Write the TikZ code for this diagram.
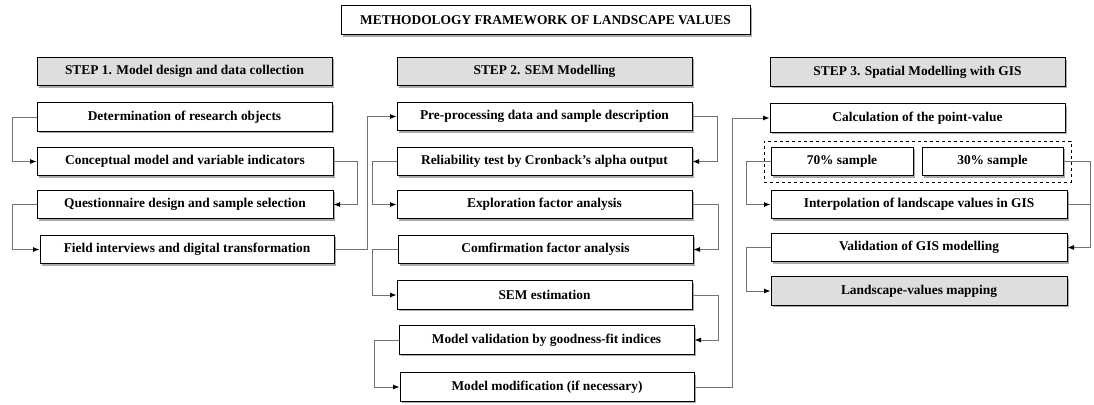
\documentclass[tikz,border=0pt]{standalone}
\usepackage{fontspec}
\setmainfont{Liberation Serif}
\usetikzlibrary{arrows.meta,shadows,positioning,calc}
\begin{document}
\begin{tikzpicture}[x=1pt,y=-1pt,
  box/.style={draw=black,line width=1pt,fill=white,inner sep=0pt,
    minimum width=295pt,minimum height=28.5pt,
    font=\fontsize{13.4}{15}\selectfont\bfseries,
    drop shadow={shadow xshift=1.6pt,shadow yshift=-1.8pt,fill=black!55,opacity=0.6}},
  head/.style={box,fill=black!13},
  conn/.style={draw=black!55,line width=0.8pt},
  arr/.style={conn,-{Latex[length=6.5pt,width=5pt,fill=black,color=black]}},
]
\useasboundingbox (0,0) rectangle (1094,404);

% title
\node[box,minimum width=409pt,minimum height=29pt] (title) at (545.5,20.5) {METHODOLOGY FRAMEWORK OF LANDSCAPE VALUES};

% step 1
\node[head] (h1) at (184.5,71.5) {STEP 1. Model design and data collection};
\node[box] (b1) at (184.5,117) {Determination of research objects};
\node[box,minimum width=296pt] (b2) at (185,161.5) {Conceptual model and variable indicators};
\node[box,minimum width=296pt] (b3) at (185,204.5) {Questionnaire design and sample selection};
\node[box,minimum width=294pt] (b4) at (187,249.5) {Field interviews and digital transformation};

% step 2
\node[head] (h2) at (544.5,71.5) {STEP 2. SEM Modelling};
\node[box] (s1) at (544.5,116.5) {Pre-processing data and sample description};
\node[box] (s2) at (544.5,161.5) {Reliability test by Cronback’s alpha output};
\node[box] (s3) at (544.5,204.5) {Exploration factor analysis};
\node[box] (s4) at (545.5,249.5) {Comfirmation factor analysis};
\node[box] (s5) at (544.5,295) {SEM estimation};
\node[box] (s6) at (546.5,340) {Model validation by goodness-fit indices};
\node[box,minimum width=294pt] (s7) at (547,387) {Model modification (if necessary)};

% step 3
\node[head] (h3) at (917.5,72) {STEP 3. Spatial Modelling with GIS};
\node[box] (c1) at (917.5,118) {Calculation of the point-value};
\node[draw=black,dashed,line width=1pt,minimum width=307pt,minimum height=41pt,inner sep=0pt] (dash) at (917.5,161.5) {};
\node[box,minimum width=142pt] (p70) at (842,161.5) {70\% sample};
\node[box,minimum width=141pt] (p30) at (992.5,161.5) {30\% sample};
\node[box,minimum width=296pt] (i1) at (919,204.5) {Interpolation of landscape values in GIS};
\node[box,minimum width=296pt] (v1) at (919,247.5) {Validation of GIS modelling};
\node[head,minimum width=296pt] (lm) at (919,291) {Landscape-values mapping};

% connectors step 1
\draw[arr] (b1.west) -- ++(-24,0) |- (b2.west);
\draw[arr] (b2.east) -- ++(24,0) |- (b3.east);
\draw[arr] (b3.west) -- ++(-24,0) |- (b4.west);
\draw[arr] (b4.east) -- ++(33,0) |- (s1.west);

% connectors step 2
\draw[arr] (s1.east) -- ++(25,0) |- (s2.east);
\draw[arr] (s2.west) -- ++(-24,0) |- (s3.west);
\draw[arr] (s3.east) -- ++(26,0) |- (s4.east);
\draw[arr] (s4.west) -- ++(-25,0) |- (s5.west);
\draw[arr] (s5.east) -- ++(26,0) |- (s6.east);
\draw[arr] (s6.west) -- ++(-24,0) |- (s7.west);
\draw[arr] (s7.east) -- ++(38,0) |- (c1.west);

% connectors step 3
\draw[arr] (p70.west) -- ++(-24,0) |- (i1.west);
\draw[arr] (p30.east) -- ++(27,0) |- (v1.east);
\draw[conn] (i1.east) -- ++(23,0);
\draw[arr] (v1.west) -- ++(-24,0) |- (lm.west);
\end{tikzpicture}
\end{document}
